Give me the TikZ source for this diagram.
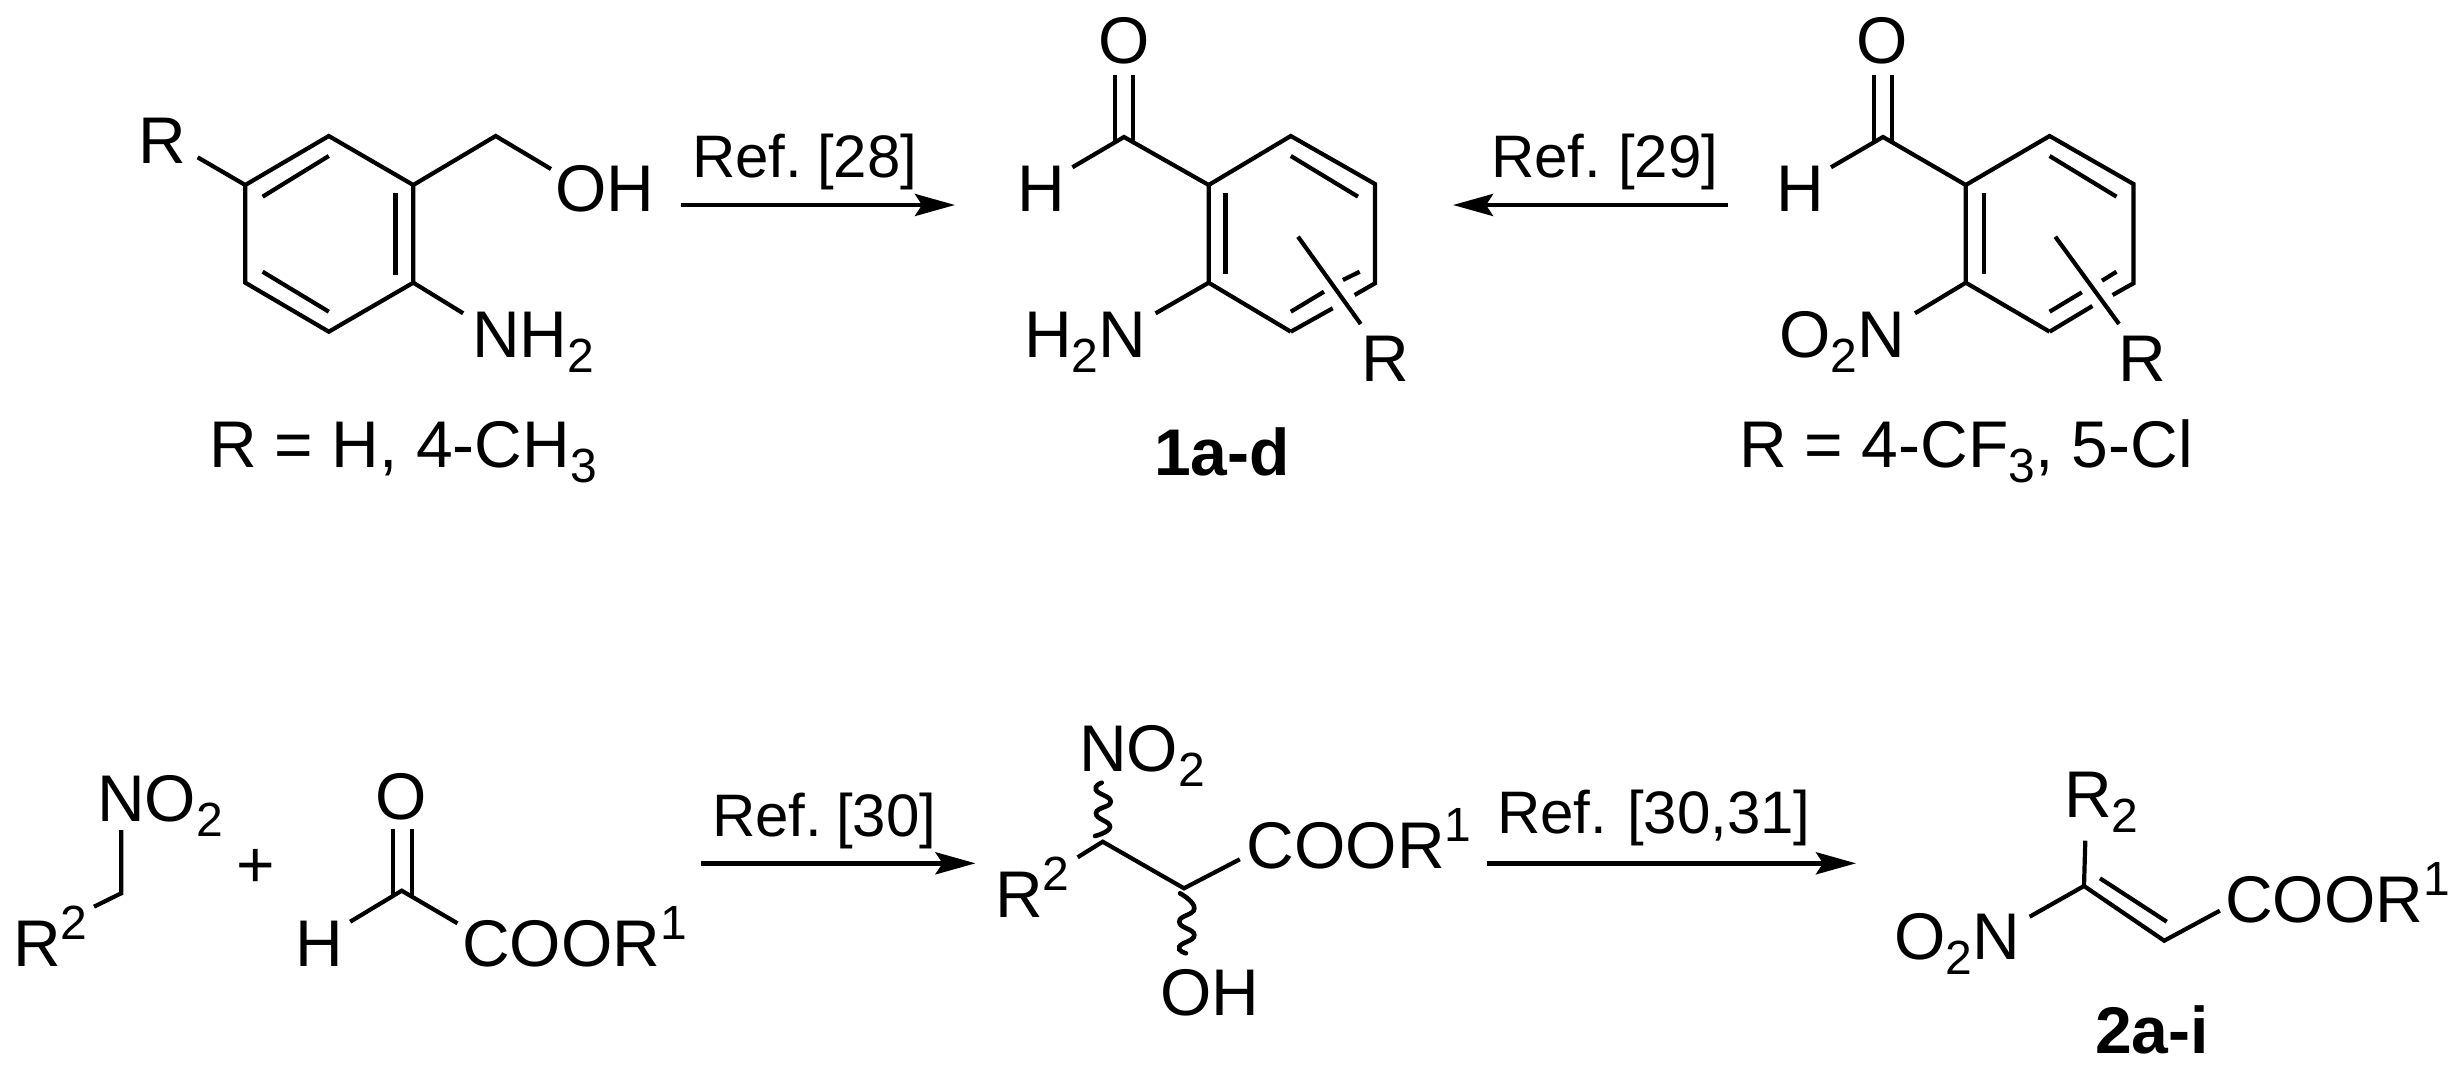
\documentclass[tikz,border=0pt]{standalone}
\usepackage{fontspec}
\setmainfont{Liberation Sans}
\usetikzlibrary{arrows.meta}
\newcommand{\subt}[1]{\raisebox{-15pt}{\fontsize{48}{48}\selectfont #1}}
\newcommand{\supt}[1]{\raisebox{27pt}{\fontsize{48}{48}\selectfont #1}}
\tikzset{
  x=1pt,y=-1pt,
  bond/.style={line width=4.2pt,line join=miter,line cap=butt,black},
  wavy/.style={line width=4.6pt,line cap=round,black},
  rxn/.style={line width=4.6pt,black,-{Stealth[length=40pt,width=22pt,inset=7pt]},shorten >=-1pt},
  chem/.style={inner sep=0pt,outer sep=0pt,anchor=base west,font=\fontsize{66}{66}\selectfont,text=black},
  reflab/.style={chem,font=\fontsize{60}{60}\selectfont},
  cmpd/.style={chem,anchor=base,font=\fontsize{66}{66}\selectfont\bfseries},
}
\begin{document}
\begin{tikzpicture}
\fill[white] (0,0) rectangle (2455,1073);
\useasboundingbox (0,0) rectangle (2455,1073);
% ---------- Structure A
\node[chem] (aR) at (138,163.5) {R};
\node[chem] (aOH) at (555,211.7) {OH};
\node[chem] (aNH) at (472,357.3) {NH\subt{2}};
\node[chem] (aNote) at (209,467.7) {R = H, 4-CH\subt{3}};
\coordinate (a1) at (328.8,136);
\coordinate (a2) at (413.3,185);
\coordinate (a3) at (413.3,282.7);
\coordinate (a4) at (328.8,331.7);
\coordinate (a5) at (245.3,282.7);
\coordinate (a6) at (245.3,185);
\coordinate (a7) at (495.7,136);
\coordinate (aOHe) at (551,169);
\coordinate (aNHe) at (463.2,313.3);
\coordinate (aRe) at (197.6,157.3);
\coordinate (ai1) at (262.6,196.7); \coordinate (ai2) at (328.8,156);
\coordinate (ai3) at (395.5,193.3); \coordinate (ai4) at (395.5,275);
\coordinate (ai5) at (262.6,271.7); \coordinate (ai6) at (328.8,311.7);
\draw[bond] (a1)--(a2)--(a3)--(a4)--(a5)--(a6)--cycle;
\draw[bond] (a2)--(a7)--(aOHe);
\draw[bond] (a3)--(aNHe);
\draw[bond] (a6)--(aRe);
\draw[bond] (ai1)--(ai2);
\draw[bond] (ai3)--(ai4);
\draw[bond] (ai5)--(ai6);
% ---------- Arrow 1
\node[reflab] (r28) at (692,177.7) {Ref.\hspace{15pt}[28]};
\coordinate (ar1s) at (681,205); \coordinate (ar1e) at (954,205);
\draw[rxn] (ar1s)--(ar1e);
% ---------- Structure B
\node[chem] (bO) at (1098.5,63.7) {O};
\node[chem] (bH) at (1017,211.7) {H};
\node[chem] (bN) at (1024,357.3) {H\subt{2}N};
\node[chem] (bR) at (1361,381.7) {R};
\node[cmpd] (bLab) at (1222,475) {1a-d};
\coordinate (b1) at (1290.8,136);
\coordinate (b2) at (1375,184);
\coordinate (b3) at (1375,283.3);
\coordinate (b4) at (1290.8,331.7);
\coordinate (b5) at (1208.7,282.7);
\coordinate (b6) at (1208.7,185);
\coordinate (bC) at (1124,137);
\coordinate (bHe) at (1072.4,167.3);
\coordinate (bO1) at (1114.8,75); \coordinate (bO1b) at (1114.8,142);
\coordinate (bO2) at (1132.7,75); \coordinate (bO2b) at (1132.7,142);
\coordinate (bNe) at (1155.6,313.3);
\coordinate (bi1) at (1290.8,156); \coordinate (bi2) at (1358,196.7);
\coordinate (bi3) at (1225.5,193.3); \coordinate (bi4) at (1225.5,274);
\coordinate (bi5) at (1290.8,311.7); \coordinate (bi6) at (1324,291.7);
\coordinate (bi7) at (1342.9,280); \coordinate (bi8) at (1359.7,271.7);
\coordinate (bo1) at (1332.7,308.3); \coordinate (bo2) at (1354.6,295);
\coordinate (bs1) at (1298,236.7); \coordinate (bs2) at (1360.7,324);
\draw[bond] (b4)--(b5)--(b6)--(b1)--(b2)--(b3)--(bo2);
\draw[bond] (b4)--(bo1);
\draw[bond] (b6)--(bC)--(bHe);
\draw[bond] (bO1)--(bO1b);
\draw[bond] (bO2)--(bO2b);
\draw[bond] (b5)--(bNe);
\draw[bond] (bi1)--(bi2);
\draw[bond] (bi3)--(bi4);
\draw[bond] (bi5)--(bi6);
\draw[bond] (bi7)--(bi8);
\draw[bond] (bs1)--(bs2);
% ---------- Arrow 2
\node[reflab] (r29) at (1491,177.7) {Ref.\hspace{17pt}[29]};
\coordinate (ar2s) at (1728,205); \coordinate (ar2e) at (1454,205);
\draw[rxn] (ar2s)--(ar2e);
% ---------- Structure C
\node[chem] (cO) at (1856,63.7) {O};
\node[chem] (cH) at (1776,211.7) {H};
\node[chem] (cN) at (1779,357.3) {O\subt{2}N};
\node[chem] (cR) at (2118,381.7) {R};
\node[chem] (cNote) at (1739,467.7) {R = 4-CF\subt{3}, 5-Cl};
\coordinate (c1) at (2049.6,136);
\coordinate (c2) at (2133.4,184);
\coordinate (c3) at (2133.4,283.3);
\coordinate (c4) at (2049.6,331.7);
\coordinate (c5) at (1965.8,282.7);
\coordinate (c6) at (1965.8,185);
\coordinate (cC) at (1883,137);
\coordinate (cHe) at (1831,167.3);
\coordinate (cO1) at (1874.3,75); \coordinate (cO1b) at (1874.3,142);
\coordinate (cO2) at (1891.6,75); \coordinate (cO2b) at (1891.6,142);
\coordinate (cNe) at (1915,313.3);
\coordinate (ci1) at (2049.6,156); \coordinate (ci2) at (2116.5,196.7);
\coordinate (ci3) at (1984,193.3); \coordinate (ci4) at (1984,274);
\coordinate (ci5) at (2049.6,311.7); \coordinate (ci6) at (2081.8,292.3);
\coordinate (ci7) at (2102,280.7); \coordinate (ci8) at (2116.5,271.7);
\coordinate (co1) at (2092.4,306); \coordinate (co2) at (2112.6,295);
\coordinate (cs1) at (2055.3,236.7); \coordinate (cs2) at (2119,324);
\draw[bond] (c4)--(c5)--(c6)--(c1)--(c2)--(c3)--(co2);
\draw[bond] (c4)--(co1);
\draw[bond] (c6)--(cC)--(cHe);
\draw[bond] (cO1)--(cO1b);
\draw[bond] (cO2)--(cO2b);
\draw[bond] (c5)--(cNe);
\draw[bond] (ci1)--(ci2);
\draw[bond] (ci3)--(ci4);
\draw[bond] (ci5)--(ci6);
\draw[bond] (ci7)--(ci8);
\draw[bond] (cs1)--(cs2);
% ---------- Nitroalkane
\node[chem] (dR) at (13,966.7) {R\supt{2}};
\node[chem] (dN) at (97,821) {NO\subt{2}};
\coordinate (d1) at (121.2,893.3);
\coordinate (dRe) at (94,906.7);
\coordinate (dNe) at (121.2,830);
\draw[bond] (dRe)--(d1)--(dNe);
\node[chem,anchor=base] (plus) at (255.7,887.5) {+};
% ---------- Glyoxylate
\node[chem] (eO) at (375.5,819.5) {O};
\node[chem] (eH) at (295,966.7) {H};
\node[chem] (eC) at (462,966.7) {COOR\supt{1}};
\coordinate (e1) at (401.7,890.7);
\coordinate (eHe) at (350.2,921.7);
\coordinate (eCe) at (457.5,923.3);
\coordinate (eO1) at (392.6,829.3); \coordinate (eO1b) at (392.6,896);
\coordinate (eO2) at (412,829.3); \coordinate (eO2b) at (412,896);
\draw[bond] (eHe)--(e1)--(eCe);
\draw[bond] (eO1)--(eO1b);
\draw[bond] (eO2)--(eO2b);
% ---------- Arrow 3
\node[reflab] (r30) at (712,836) {Ref.\hspace{14pt}[30]};
\coordinate (ar3s) at (701,863.3); \coordinate (ar3e) at (974.5,863.3);
\draw[rxn] (ar3s)--(ar3e);
% ---------- Nitro alcohol
\node[chem] (fR) at (995,917.3) {R\supt{2}};
\node[chem] (fN) at (1079,771.7) {NO\subt{2}};
\node[chem] (fC) at (1246.7,868.3) {COOR\supt{1}};
\node[chem] (fOH) at (1160,1015) {OH};
\coordinate (f1) at (1102.7,841.7);
\coordinate (f2) at (1184,888.3);
\coordinate (fRe) at (1077.6,857.3);
\coordinate (fCe) at (1239.8,859.3);
\draw[bond] (fRe)--(f1)--(f2)--(fCe);
\draw[wavy] plot[smooth,tension=.9] coordinates {(1095,836) (1110,826.7) (1096,813.3) (1110.7,801.7) (1096,790) (1101.7,782.7)};
\draw[wavy] plot[smooth,tension=.9] coordinates {(1180,893.3) (1194.3,908.3) (1179.3,921.7) (1194.3,935) (1179.3,946.7) (1186,953.3)};
% ---------- Arrow 4
\node[reflab] (r31) at (1497,833.3) {Ref.\hspace{20pt}[30,31]};
\coordinate (ar4s) at (1487,863.3); \coordinate (ar4e) at (1855,863.3);
\draw[rxn] (ar4s)--(ar4e);
% ---------- Product 2
\node[chem] (gR) at (2064,817.3) {R\subt{2}};
\node[chem] (gN) at (1894,959) {O\subt{2}N};
\node[chem] (gC) at (2225,922.7) {COOR\supt{1}};
\node[cmpd] (gLab) at (2152,1053.3) {2a-i};
\coordinate (g1) at (2084,886);
\coordinate (g2) at (2164.2,940.7);
\coordinate (gRe) at (2085.3,840.7);
\coordinate (gNe) at (2029.7,916.7);
\coordinate (gCe) at (2219.8,910.7);
\coordinate (gi1) at (2100,878.3); \coordinate (gi2) at (2166.7,921.7);
\draw[bond] (gRe)--(g1)--(g2)--(gCe);
\draw[bond] (g1)--(gNe);
\draw[bond] (gi1)--(gi2);
\end{tikzpicture}
\end{document}
